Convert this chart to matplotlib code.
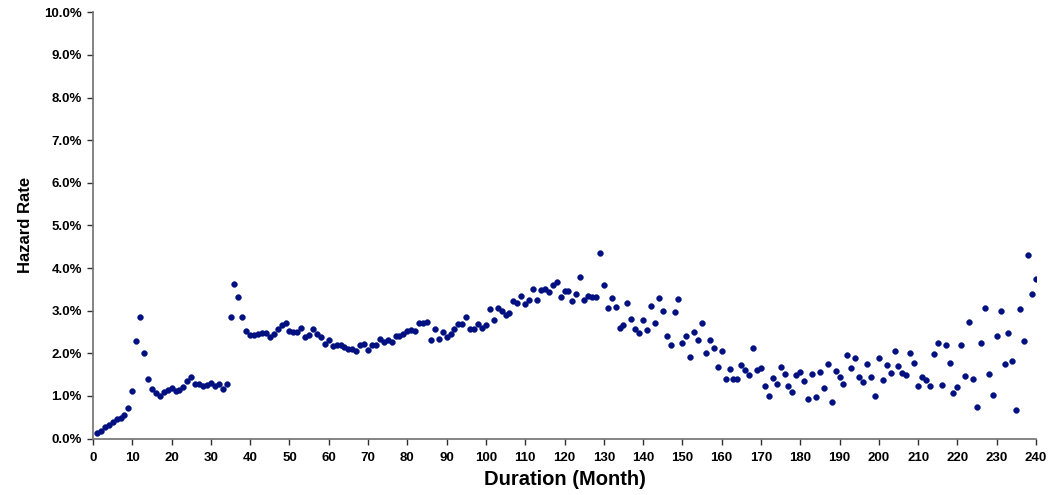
import matplotlib

matplotlib.use("Agg")
import matplotlib.pyplot as plt
from matplotlib.ticker import FuncFormatter, MultipleLocator

# Monthly hazard rate (%) by loan duration, months 1..240
months = list(range(1, 241))
hazard_pct = [
    0.13, 0.17, 0.27, 0.32, 0.38, 0.45, 0.49, 0.54, 0.72, 1.12,
    2.28, 2.84, 2.01, 1.40, 1.16, 1.07, 1.00, 1.08, 1.14, 1.19,
    1.12, 1.13, 1.22, 1.36, 1.44, 1.29, 1.27, 1.24, 1.25, 1.30,
    1.24, 1.27, 1.16, 1.27, 2.85, 3.62, 3.31, 2.85, 2.52, 2.44,
    2.44, 2.46, 2.48, 2.47, 2.37, 2.46, 2.57, 2.66, 2.71, 2.53,
    2.49, 2.49, 2.59, 2.39, 2.42, 2.56, 2.45, 2.38, 2.21, 2.30,
    2.17, 2.19, 2.19, 2.15, 2.10, 2.10, 2.06, 2.19, 2.21, 2.08,
    2.19, 2.19, 2.34, 2.27, 2.30, 2.27, 2.41, 2.40, 2.45, 2.53,
    2.55, 2.52, 2.70, 2.72, 2.74, 2.32, 2.58, 2.34, 2.51, 2.39,
    2.46, 2.56, 2.68, 2.69, 2.85, 2.56, 2.58, 2.69, 2.60, 2.67,
    3.05, 2.77, 3.06, 2.98, 2.89, 2.95, 3.23, 3.19, 3.34, 3.16,
    3.26, 3.50, 3.26, 3.49, 3.51, 3.44, 3.61, 3.67, 3.31, 3.46,
    3.46, 3.23, 3.39, 3.78, 3.24, 3.35, 3.31, 3.32, 4.35, 3.61,
    3.07, 3.29, 3.08, 2.60, 2.67, 3.19, 2.81, 2.56, 2.47, 2.77,
    2.54, 3.12, 2.72, 3.29, 3.00, 2.41, 2.19, 2.97, 3.27, 2.25,
    2.41, 1.91, 2.49, 2.31, 2.72, 2.01, 2.30, 2.12, 1.68, 2.05,
    1.40, 1.64, 1.40, 1.39, 1.72, 1.60, 1.49, 2.12, 1.61, 1.65,
    1.23, 0.99, 1.41, 1.28, 1.67, 1.52, 1.24, 1.09, 1.50, 1.56,
    1.35, 0.93, 1.51, 0.97, 1.56, 1.19, 1.75, 0.86, 1.59, 1.44,
    1.27, 1.95, 1.65, 1.90, 1.45, 1.32, 1.75, 1.44, 1.00, 1.89,
    1.37, 1.73, 1.53, 2.05, 1.70, 1.54, 1.50, 2.00, 1.76, 1.23,
    1.44, 1.37, 1.23, 1.98, 2.23, 1.26, 2.19, 1.77, 1.06, 1.21,
    2.19, 1.46, 2.73, 1.39, 0.73, 2.24, 3.07, 1.52, 1.01, 2.40,
    3.00, 1.75, 2.48, 1.82, 0.67, 3.05, 2.29, 4.30, 3.38, 3.74,
]
hazard = [v / 100 for v in hazard_pct]

plt.rcParams["font.family"] = ["Liberation Sans", "DejaVu Sans"]
plt.rcParams["font.weight"] = "bold"

fig = plt.figure(figsize=(10.52, 4.95), dpi=100)
ax = fig.add_axes([93 / 1052, 1 - 438.5 / 495, 943 / 1052, 426.2 / 495])

ax.plot(months, hazard, linestyle="none", marker="o", markersize=4.2,
        markerfacecolor="#001080", markeredgecolor="#001080", markeredgewidth=0.3)

ax.set_xlim(0, 240)
ax.set_ylim(0, 0.10)
ax.xaxis.set_major_locator(MultipleLocator(10))
ax.yaxis.set_major_locator(MultipleLocator(0.01))
ax.yaxis.set_major_formatter(FuncFormatter(lambda v, _: f"{v * 100:.1f}%"))

for side in ("top", "right"):
    ax.spines[side].set_visible(False)
for side in ("left", "bottom"):
    ax.spines[side].set_color("#707070")
    ax.spines[side].set_linewidth(1.2)
ax.tick_params(direction="out", length=4, width=1, color="#303030",
               labelsize=9.5)
ax.tick_params(axis="y", pad=4)
ax.tick_params(axis="x", pad=6)
for lbl in ax.get_xticklabels() + ax.get_yticklabels():
    lbl.set_fontweight("bold")

ax.set_xlabel("Duration (Month)", fontsize=14.5, fontweight="bold", labelpad=4)
ax.set_ylabel("Hazard Rate", fontsize=12, fontweight="bold", labelpad=8)

fig.savefig("out.png", dpi=100)
